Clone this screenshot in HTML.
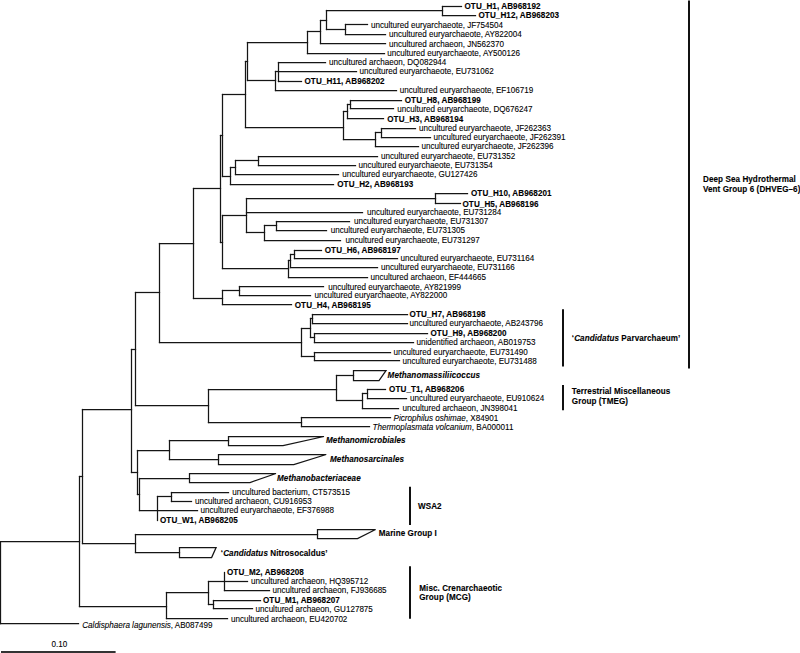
<!DOCTYPE html><html><head><meta charset="utf-8"><style>html,body{margin:0;padding:0;background:#fff;overflow:hidden;width:800px;height:653px;}svg{display:block}</style></head><body>
<svg width="800" height="653" viewBox="0 0 800 653" font-family="Liberation Sans, sans-serif" font-size="8.8">
<g stroke="#151515" stroke-width="1.25" stroke-linecap="square" fill="none">
<line x1="0.5" y1="541.5" x2="0.5" y2="623.5"/>
<line x1="0.5" y1="541.5" x2="79.5" y2="541.5"/>
<line x1="79.5" y1="476.5" x2="79.5" y2="606.5"/>
<line x1="79.5" y1="476.5" x2="82.5" y2="476.5"/>
<line x1="82.5" y1="409.5" x2="82.5" y2="543.5"/>
<line x1="82.5" y1="409.5" x2="131.5" y2="409.5"/>
<line x1="131.5" y1="349.5" x2="131.5" y2="472.5"/>
<line x1="131.5" y1="349.5" x2="135.5" y2="349.5"/>
<line x1="135.5" y1="292.5" x2="135.5" y2="405.5"/>
<line x1="135.5" y1="292.5" x2="159.5" y2="292.5"/>
<line x1="159.5" y1="243.5" x2="159.5" y2="342.5"/>
<line x1="159.5" y1="243.5" x2="193.5" y2="243.5"/>
<line x1="193.5" y1="188.5" x2="193.5" y2="298.5"/>
<line x1="193.5" y1="188.5" x2="220.5" y2="188.5"/>
<line x1="220.5" y1="135.5" x2="220.5" y2="242.5"/>
<line x1="220.5" y1="135.5" x2="222.5" y2="135.5"/>
<line x1="222.5" y1="94.5" x2="222.5" y2="176.5"/>
<line x1="222.5" y1="94.5" x2="245.5" y2="94.5"/>
<line x1="245.5" y1="61.5" x2="245.5" y2="127.5"/>
<line x1="245.5" y1="61.5" x2="247.5" y2="61.5"/>
<line x1="247.5" y1="42.5" x2="247.5" y2="80.5"/>
<line x1="247.5" y1="42.5" x2="307.5" y2="42.5"/>
<line x1="307.5" y1="31.5" x2="307.5" y2="53.5"/>
<line x1="307.5" y1="31.5" x2="320.5" y2="31.5"/>
<line x1="320.5" y1="20.5" x2="320.5" y2="43.5"/>
<line x1="320.5" y1="20.5" x2="326.5" y2="20.5"/>
<line x1="326.5" y1="10.5" x2="326.5" y2="29.5"/>
<line x1="326.5" y1="10.5" x2="442.5" y2="10.5"/>
<line x1="442.5" y1="6.5" x2="442.5" y2="15.5"/>
<line x1="442.5" y1="6.5" x2="461.5" y2="6.5"/>
<line x1="442.5" y1="15.5" x2="475.5" y2="15.5"/>
<line x1="326.5" y1="29.5" x2="345.5" y2="29.5"/>
<line x1="345.5" y1="24.5" x2="345.5" y2="34.5"/>
<line x1="345.5" y1="24.5" x2="367.5" y2="24.5"/>
<line x1="345.5" y1="34.5" x2="385.5" y2="34.5"/>
<line x1="320.5" y1="43.5" x2="385.5" y2="43.5"/>
<line x1="307.5" y1="53.5" x2="384.5" y2="53.5"/>
<line x1="247.5" y1="80.5" x2="275.5" y2="80.5"/>
<line x1="275.5" y1="71.5" x2="275.5" y2="90.5"/>
<line x1="275.5" y1="71.5" x2="278.5" y2="71.5"/>
<line x1="278.5" y1="62.5" x2="278.5" y2="81.5"/>
<line x1="278.5" y1="62.5" x2="325.5" y2="62.5"/>
<line x1="278.5" y1="71.5" x2="356.5" y2="71.5"/>
<line x1="278.5" y1="81.5" x2="301.5" y2="81.5"/>
<line x1="275.5" y1="90.5" x2="396.5" y2="90.5"/>
<line x1="245.5" y1="127.5" x2="343.5" y2="127.5"/>
<line x1="343.5" y1="111.5" x2="343.5" y2="139.5"/>
<line x1="343.5" y1="111.5" x2="347.5" y2="111.5"/>
<line x1="347.5" y1="104.5" x2="347.5" y2="118.5"/>
<line x1="347.5" y1="104.5" x2="350.5" y2="104.5"/>
<line x1="350.5" y1="100.5" x2="350.5" y2="108.5"/>
<line x1="350.5" y1="100.5" x2="401.5" y2="100.5"/>
<line x1="350.5" y1="108.5" x2="393.5" y2="108.5"/>
<line x1="347.5" y1="118.5" x2="383.5" y2="118.5"/>
<line x1="343.5" y1="139.5" x2="375.5" y2="139.5"/>
<line x1="375.5" y1="132.5" x2="375.5" y2="146.5"/>
<line x1="375.5" y1="132.5" x2="381.5" y2="132.5"/>
<line x1="381.5" y1="128.5" x2="381.5" y2="137.5"/>
<line x1="381.5" y1="128.5" x2="415.5" y2="128.5"/>
<line x1="381.5" y1="137.5" x2="430.5" y2="137.5"/>
<line x1="375.5" y1="146.5" x2="418.5" y2="146.5"/>
<line x1="222.5" y1="176.5" x2="230.5" y2="176.5"/>
<line x1="230.5" y1="167.5" x2="230.5" y2="184.5"/>
<line x1="230.5" y1="167.5" x2="235.5" y2="167.5"/>
<line x1="235.5" y1="160.5" x2="235.5" y2="174.5"/>
<line x1="235.5" y1="160.5" x2="258.5" y2="160.5"/>
<line x1="258.5" y1="156.5" x2="258.5" y2="165.5"/>
<line x1="258.5" y1="156.5" x2="377.5" y2="156.5"/>
<line x1="258.5" y1="165.5" x2="355.5" y2="165.5"/>
<line x1="235.5" y1="174.5" x2="338.5" y2="174.5"/>
<line x1="230.5" y1="184.5" x2="333.5" y2="184.5"/>
<line x1="220.5" y1="242.5" x2="222.5" y2="242.5"/>
<line x1="222.5" y1="215.5" x2="222.5" y2="268.5"/>
<line x1="222.5" y1="215.5" x2="246.5" y2="215.5"/>
<line x1="246.5" y1="198.5" x2="246.5" y2="232.5"/>
<line x1="246.5" y1="198.5" x2="435.5" y2="198.5"/>
<line x1="435.5" y1="193.5" x2="435.5" y2="203.5"/>
<line x1="435.5" y1="193.5" x2="467.5" y2="193.5"/>
<line x1="435.5" y1="203.5" x2="460.5" y2="203.5"/>
<line x1="246.5" y1="212.5" x2="362.5" y2="212.5"/>
<line x1="246.5" y1="232.5" x2="264.5" y2="232.5"/>
<line x1="264.5" y1="225.5" x2="264.5" y2="240.5"/>
<line x1="264.5" y1="225.5" x2="276.5" y2="225.5"/>
<line x1="276.5" y1="221.5" x2="276.5" y2="230.5"/>
<line x1="276.5" y1="221.5" x2="349.5" y2="221.5"/>
<line x1="276.5" y1="230.5" x2="326.5" y2="230.5"/>
<line x1="264.5" y1="240.5" x2="340.5" y2="240.5"/>
<line x1="222.5" y1="268.5" x2="288.5" y2="268.5"/>
<line x1="288.5" y1="260.5" x2="288.5" y2="277.5"/>
<line x1="288.5" y1="260.5" x2="290.5" y2="260.5"/>
<line x1="290.5" y1="254.5" x2="290.5" y2="267.5"/>
<line x1="290.5" y1="254.5" x2="294.5" y2="254.5"/>
<line x1="294.5" y1="250.5" x2="294.5" y2="258.5"/>
<line x1="294.5" y1="250.5" x2="321.5" y2="250.5"/>
<line x1="294.5" y1="258.5" x2="397.5" y2="258.5"/>
<line x1="290.5" y1="267.5" x2="377.5" y2="267.5"/>
<line x1="288.5" y1="277.5" x2="367.5" y2="277.5"/>
<line x1="193.5" y1="298.5" x2="222.5" y2="298.5"/>
<line x1="222.5" y1="290.5" x2="222.5" y2="304.5"/>
<line x1="222.5" y1="290.5" x2="239.5" y2="290.5"/>
<line x1="239.5" y1="286.5" x2="239.5" y2="295.5"/>
<line x1="239.5" y1="286.5" x2="323.5" y2="286.5"/>
<line x1="239.5" y1="295.5" x2="310.5" y2="295.5"/>
<line x1="222.5" y1="304.5" x2="291.5" y2="304.5"/>
<line x1="159.5" y1="342.5" x2="301.5" y2="342.5"/>
<line x1="301.5" y1="328.5" x2="301.5" y2="356.5"/>
<line x1="301.5" y1="328.5" x2="310.5" y2="328.5"/>
<line x1="310.5" y1="318.5" x2="310.5" y2="337.5"/>
<line x1="310.5" y1="318.5" x2="312.5" y2="318.5"/>
<line x1="312.5" y1="314.5" x2="312.5" y2="323.5"/>
<line x1="312.5" y1="314.5" x2="407.5" y2="314.5"/>
<line x1="312.5" y1="323.5" x2="407.5" y2="323.5"/>
<line x1="310.5" y1="337.5" x2="314.5" y2="337.5"/>
<line x1="314.5" y1="333.5" x2="314.5" y2="342.5"/>
<line x1="314.5" y1="333.5" x2="427.5" y2="333.5"/>
<line x1="314.5" y1="342.5" x2="413.5" y2="342.5"/>
<line x1="301.5" y1="356.5" x2="314.5" y2="356.5"/>
<line x1="314.5" y1="352.5" x2="314.5" y2="360.5"/>
<line x1="314.5" y1="352.5" x2="390.5" y2="352.5"/>
<line x1="314.5" y1="360.5" x2="399.5" y2="360.5"/>
<line x1="135.5" y1="405.5" x2="208.5" y2="405.5"/>
<line x1="208.5" y1="389.5" x2="208.5" y2="422.5"/>
<line x1="208.5" y1="389.5" x2="336.5" y2="389.5"/>
<line x1="336.5" y1="375.5" x2="336.5" y2="400.5"/>
<line x1="336.5" y1="375.5" x2="353.5" y2="375.5"/>
<line x1="336.5" y1="400.5" x2="362.5" y2="400.5"/>
<line x1="362.5" y1="393.5" x2="362.5" y2="408.5"/>
<line x1="362.5" y1="393.5" x2="367.5" y2="393.5"/>
<line x1="367.5" y1="389.5" x2="367.5" y2="398.5"/>
<line x1="367.5" y1="389.5" x2="385.5" y2="389.5"/>
<line x1="367.5" y1="398.5" x2="406.5" y2="398.5"/>
<line x1="362.5" y1="408.5" x2="398.5" y2="408.5"/>
<line x1="208.5" y1="422.5" x2="301.5" y2="422.5"/>
<line x1="301.5" y1="417.5" x2="301.5" y2="426.5"/>
<line x1="301.5" y1="417.5" x2="390.5" y2="417.5"/>
<line x1="301.5" y1="426.5" x2="369.5" y2="426.5"/>
<line x1="131.5" y1="472.5" x2="137.5" y2="472.5"/>
<line x1="137.5" y1="450.5" x2="137.5" y2="494.5"/>
<line x1="137.5" y1="450.5" x2="169.5" y2="450.5"/>
<line x1="169.5" y1="440.5" x2="169.5" y2="459.5"/>
<line x1="169.5" y1="440.5" x2="228.5" y2="440.5"/>
<line x1="169.5" y1="459.5" x2="218.5" y2="459.5"/>
<line x1="137.5" y1="494.5" x2="139.5" y2="494.5"/>
<line x1="139.5" y1="478.5" x2="139.5" y2="510.5"/>
<line x1="139.5" y1="478.5" x2="189.5" y2="478.5"/>
<line x1="139.5" y1="510.5" x2="197.5" y2="510.5"/>
<line x1="82.5" y1="543.5" x2="135.5" y2="543.5"/>
<line x1="135.5" y1="534.5" x2="135.5" y2="552.5"/>
<line x1="135.5" y1="534.5" x2="317.5" y2="534.5"/>
<line x1="135.5" y1="552.5" x2="179.5" y2="552.5"/>
<line x1="79.5" y1="606.5" x2="166.5" y2="606.5"/>
<line x1="166.5" y1="592.5" x2="166.5" y2="618.5"/>
<line x1="166.5" y1="592.5" x2="208.5" y2="592.5"/>
<line x1="208.5" y1="581.5" x2="208.5" y2="604.5"/>
<line x1="208.5" y1="581.5" x2="224.5" y2="581.5"/>
<line x1="224.5" y1="572.5" x2="224.5" y2="590.5"/>
<line x1="224.5" y1="581.5" x2="247.5" y2="581.5"/>
<line x1="224.5" y1="590.5" x2="269.5" y2="590.5"/>
<line x1="208.5" y1="604.5" x2="213.5" y2="604.5"/>
<line x1="213.5" y1="600.5" x2="213.5" y2="608.5"/>
<line x1="213.5" y1="600.5" x2="260.5" y2="600.5"/>
<line x1="213.5" y1="608.5" x2="252.5" y2="608.5"/>
<line x1="166.5" y1="618.5" x2="227.5" y2="618.5"/>
<line x1="0.5" y1="623.5" x2="78.5" y2="623.5"/>
<line x1="157.5" y1="496.5" x2="157.5" y2="520.5"/>
<line x1="157.5" y1="496.5" x2="171.5" y2="496.5"/>
<line x1="171.5" y1="492.5" x2="171.5" y2="501.5"/>
<line x1="171.5" y1="492.5" x2="228.5" y2="492.5"/>
<line x1="171.5" y1="501.5" x2="191.5" y2="501.5"/>
<polygon points="353.50,370.50 386.00,370.50 379.00,380.50 353.50,380.50"/>
<polygon points="228.50,436.50 324.00,436.50 283.00,445.50 228.50,445.50"/>
<polygon points="218.50,454.50 326.25,454.50 293.75,464.50 218.50,464.50"/>
<polygon points="189.50,473.50 276.00,473.50 250.00,482.50 189.50,482.50"/>
<polygon points="317.50,529.50 375.60,529.50 357.50,538.50 317.50,538.50"/>
<polygon points="179.50,547.50 216.10,547.50 211.60,557.50 179.50,557.50"/>
</g>
<g stroke="#111" stroke-width="2">
<line x1="689" y1="0.6" x2="689" y2="368.6"/>
<line x1="563" y1="309.2" x2="563" y2="366.4"/>
<line x1="563" y1="384.9" x2="563" y2="410.25"/>
<line x1="410" y1="486.7" x2="410" y2="525"/>
<line x1="410" y1="566.25" x2="410" y2="618.75"/>
</g>
<rect x="1" y="651" width="114.6" height="2" fill="#333"/>
<g fill="#000" stroke="#000" stroke-width="0.1">
<text transform="translate(464.50,8.90) scale(0.9205,1)" font-weight="bold" stroke-width="0.12" letter-spacing="0.09">OTU_H1, AB968192</text>
<text transform="translate(478.50,18.40) scale(0.9205,1)" font-weight="bold" stroke-width="0.12" letter-spacing="0.09">OTU_H12, AB968203</text>
<text transform="translate(371.00,27.65) scale(0.9205,1)">uncultured euryarchaeote, JF754504</text>
<text transform="translate(389.00,37.10) scale(0.9205,1)">uncultured euryarchaeote, AY822004</text>
<text transform="translate(389.00,46.50) scale(0.9205,1)">uncultured archaeon, JN562370</text>
<text transform="translate(387.20,55.90) scale(0.9205,1)">uncultured euryarchaeote, AY500126</text>
<text transform="translate(329.10,65.40) scale(0.9205,1)">uncultured archaeon, DQ082944</text>
<text transform="translate(359.50,74.20) scale(0.9205,1)">uncultured euryarchaeote, EU731062</text>
<text transform="translate(304.50,83.90) scale(0.9205,1)" font-weight="bold" stroke-width="0.12" letter-spacing="0.09">OTU_H11, AB968202</text>
<text transform="translate(399.75,93.40) scale(0.9205,1)">uncultured euryarchaeote, EF106719</text>
<text transform="translate(404.75,102.90) scale(0.9205,1)" font-weight="bold" stroke-width="0.12" letter-spacing="0.09">OTU_H8, AB968199</text>
<text transform="translate(397.25,111.65) scale(0.9205,1)">uncultured euryarchaeote, DQ676247</text>
<text transform="translate(387.25,121.65) scale(0.9205,1)" font-weight="bold" stroke-width="0.12" letter-spacing="0.09">OTU_H3, AB968194</text>
<text transform="translate(419.00,130.90) scale(0.9205,1)">uncultured euryarchaeote, JF262363</text>
<text transform="translate(433.50,140.40) scale(0.9205,1)">uncultured euryarchaeote, JF262391</text>
<text transform="translate(421.50,149.15) scale(0.9205,1)">uncultured euryarchaeote, JF262396</text>
<text transform="translate(381.00,159.15) scale(0.9205,1)">uncultured euryarchaeote, EU731352</text>
<text transform="translate(358.50,167.90) scale(0.9205,1)">uncultured euryarchaeote, EU731354</text>
<text transform="translate(342.25,177.40) scale(0.9205,1)">uncultured euryarchaeote, GU127426</text>
<text transform="translate(337.25,187.40) scale(0.9205,1)" font-weight="bold" stroke-width="0.12" letter-spacing="0.09">OTU_H2, AB968193</text>
<text transform="translate(471.00,196.40) scale(0.9205,1)" font-weight="bold" stroke-width="0.12" letter-spacing="0.09">OTU_H10, AB968201</text>
<text transform="translate(462.50,207.10) scale(0.9205,1)" font-weight="bold" stroke-width="0.12" letter-spacing="0.09">OTU_H5, AB968196</text>
<text transform="translate(367.00,215.40) scale(0.9205,1)">uncultured euryarchaeote, EU731284</text>
<text transform="translate(354.00,223.90) scale(0.9205,1)">uncultured euryarchaeote, EU731307</text>
<text transform="translate(330.70,233.40) scale(0.9205,1)">uncultured euryarchaeote, EU731305</text>
<text transform="translate(345.50,242.90) scale(0.9205,1)">uncultured euryarchaeote, EU731297</text>
<text transform="translate(324.75,252.90) scale(0.9205,1)" font-weight="bold" stroke-width="0.12" letter-spacing="0.09">OTU_H6, AB968197</text>
<text transform="translate(400.50,261.40) scale(0.9205,1)">uncultured euryarchaeote, EU731164</text>
<text transform="translate(381.00,270.40) scale(0.9205,1)">uncultured euryarchaeote, EU731166</text>
<text transform="translate(370.50,279.90) scale(0.9205,1)">uncultured archaeon, EF444665</text>
<text transform="translate(328.20,289.70) scale(0.9205,1)">uncultured euryarchaeote, AY821999</text>
<text transform="translate(314.50,298.40) scale(0.9205,1)">uncultured euryarchaeote, AY822000</text>
<text transform="translate(294.75,307.90) scale(0.9205,1)" font-weight="bold" stroke-width="0.12" letter-spacing="0.09">OTU_H4, AB968195</text>
<text transform="translate(409.60,316.90) scale(0.9205,1)" font-weight="bold" stroke-width="0.12" letter-spacing="0.09">OTU_H7, AB968198</text>
<text transform="translate(409.60,326.30) scale(0.9205,1)">uncultured euryarchaeote, AB243796</text>
<text transform="translate(430.50,335.90) scale(0.9205,1)" font-weight="bold" stroke-width="0.12" letter-spacing="0.09">OTU_H9, AB968200</text>
<text transform="translate(416.50,344.90) scale(0.9205,1)">unidentified archaeon, AB019753</text>
<text transform="translate(393.50,354.90) scale(0.9205,1)">uncultured euryarchaeote, EU731490</text>
<text transform="translate(402.50,364.30) scale(0.9205,1)">uncultured euryarchaeote, EU731488</text>
<text transform="translate(387.60,377.90) scale(0.9205,1)" font-weight="bold" stroke-width="0.12" letter-spacing="0.09"><tspan font-style='italic'>Methanomassiliicoccus</tspan></text>
<text transform="translate(389.10,391.90) scale(0.9205,1)" font-weight="bold" stroke-width="0.12" letter-spacing="0.09">OTU_T1, AB968206</text>
<text transform="translate(410.00,400.90) scale(0.9205,1)">uncultured euryarchaeote, EU910624</text>
<text transform="translate(402.40,410.90) scale(0.9205,1)">uncultured archaeon, JN398041</text>
<text transform="translate(393.50,420.50) scale(0.9205,1)"><tspan font-style='italic'>Picrophilus oshimae</tspan>, X84901</text>
<text transform="translate(372.50,429.50) scale(0.9205,1)"><tspan font-style='italic'>Thermoplasmata volcanium</tspan>, BA000011</text>
<text transform="translate(326.00,442.90) scale(0.9205,1)" font-weight="bold" stroke-width="0.12" letter-spacing="0.09"><tspan font-style='italic'>Methanomicrobiales</tspan></text>
<text transform="translate(330.00,461.90) scale(0.9205,1)" font-weight="bold" stroke-width="0.12" letter-spacing="0.09"><tspan font-style='italic'>Methanosarcinales</tspan></text>
<text transform="translate(277.00,480.90) scale(0.9205,1)" font-weight="bold" stroke-width="0.12" letter-spacing="0.09"><tspan font-style='italic'>Methanobacteriaceae</tspan></text>
<text transform="translate(200.50,513.40) scale(0.9205,1)">uncultured euryarchaeote, EF376988</text>
<text transform="translate(378.75,536.40) scale(0.9205,1)" font-weight="bold" stroke-width="0.12" letter-spacing="0.09">Marine Group I</text>
<text transform="translate(220.80,555.70) scale(0.9205,1)" font-weight="bold" stroke-width="0.12" letter-spacing="0.09">‘<tspan font-style='italic'>Candidatus</tspan> Nitrosocaldus’</text>
<text transform="translate(227.00,574.90) scale(0.9205,1)" font-weight="bold" stroke-width="0.12" letter-spacing="0.09">OTU_M2, AB968208</text>
<text transform="translate(251.00,584.15) scale(0.9205,1)">uncultured archaeon, HQ395712</text>
<text transform="translate(272.50,592.90) scale(0.9205,1)">uncultured archaeon, FJ936685</text>
<text transform="translate(263.00,602.90) scale(0.9205,1)" font-weight="bold" stroke-width="0.12" letter-spacing="0.09">OTU_M1, AB968207</text>
<text transform="translate(255.60,611.65) scale(0.9205,1)">uncultured archaeon, GU127875</text>
<text transform="translate(231.00,621.65) scale(0.9205,1)">uncultured archaeon, EU420702</text>
<text transform="translate(82.25,627.90) scale(0.9205,1)"><tspan font-style='italic'>Caldisphaera lagunensis</tspan>, AB087499</text>
<text transform="translate(232.25,494.90) scale(0.9205,1)">uncultured bacterium, CT573515</text>
<text transform="translate(195.00,504.40) scale(0.9205,1)">uncultured archaeon, CU916953</text>
<text transform="translate(160.00,523.15) scale(0.9205,1)" font-weight="bold" stroke-width="0.12" letter-spacing="0.09">OTU_W1, AB968205</text>
<text transform="translate(703.00,181.90) scale(0.9205,1)" font-weight="bold" stroke-width="0.12" letter-spacing="0.09">Deep Sea Hydrothermal</text>
<text transform="translate(703.00,191.65) scale(0.9205,1)" font-weight="bold" stroke-width="0.12" letter-spacing="0.09">Vent Group 6 (DHVEG–6)</text>
<text transform="translate(571.85,340.70) scale(0.9205,1)" font-weight="bold" stroke-width="0.12" letter-spacing="0.09">‘<tspan font-style='italic'>Candidatus</tspan> Parvarchaeum’</text>
<text transform="translate(571.85,394.30) scale(0.9205,1)" font-weight="bold" stroke-width="0.12" letter-spacing="0.09">Terrestrial Miscellaneous</text>
<text transform="translate(571.85,404.40) scale(0.9205,1)" font-weight="bold" stroke-width="0.12" letter-spacing="0.09">Group (TMEG)</text>
<text transform="translate(418.00,508.65) scale(0.9205,1)" font-weight="bold" stroke-width="0.12" letter-spacing="0.09">WSA2</text>
<text transform="translate(419.25,591.15) scale(0.9205,1)" font-weight="bold" stroke-width="0.12" letter-spacing="0.09">Misc. Crenarchaeotic</text>
<text transform="translate(419.25,600.40) scale(0.9205,1)" font-weight="bold" stroke-width="0.12" letter-spacing="0.09">Group (MCG)</text>
<text transform="translate(59.25,647.40) scale(0.9205,1)" text-anchor="middle">0.10</text>
</g></svg></body></html>
